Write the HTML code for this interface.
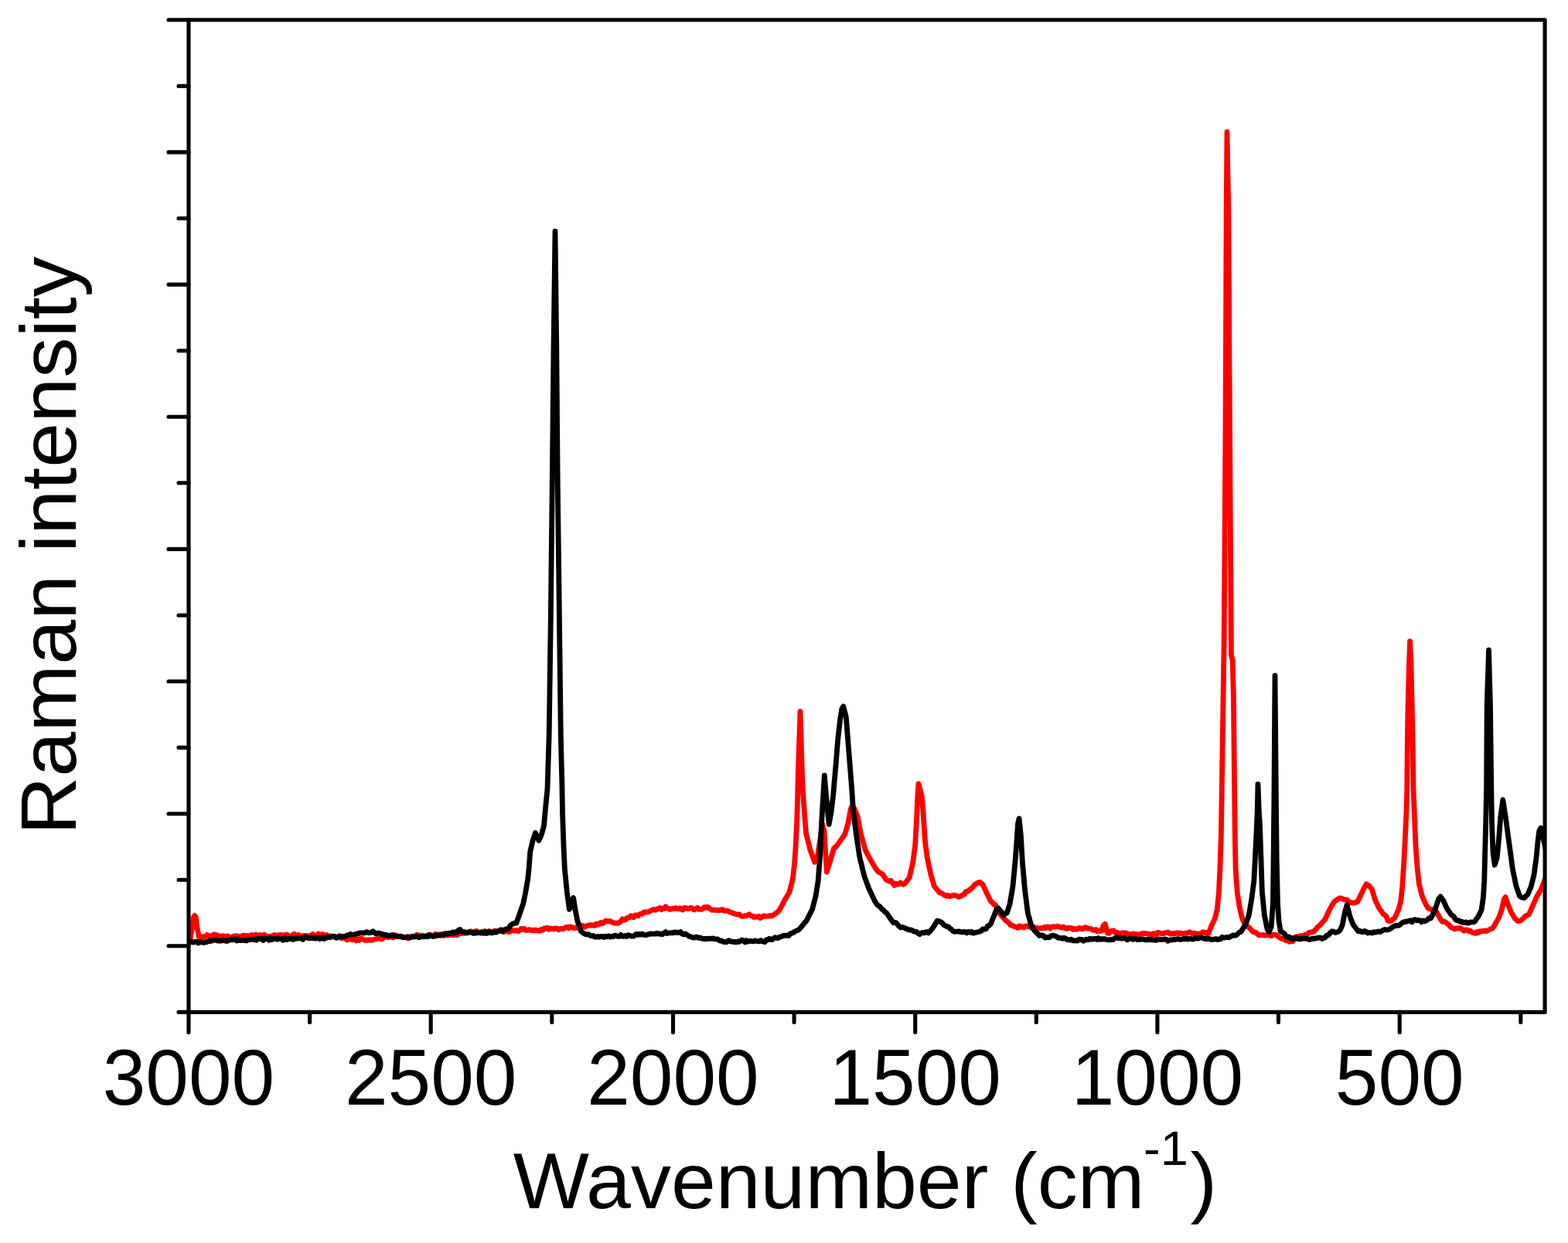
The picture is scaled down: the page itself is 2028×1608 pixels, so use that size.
<!DOCTYPE html>
<html lang="en"><head><meta charset="utf-8"><title>Raman spectra</title>
<style>html,body{margin:0;padding:0;background:#fff}body{width:2028px;height:1608px;overflow:hidden}svg{display:block}text{font-family:"Liberation Sans",sans-serif;fill:#000}</style></head><body>
<svg width="2028" height="1608" viewBox="0 0 2028 1608">
<rect x="0" y="0" width="2028" height="1608" fill="#fff"/>
<defs><clipPath id="plot"><rect x="244.0" y="25.8" width="1754.1" height="1283.6"/></clipPath></defs>
<g clip-path="url(#plot)" fill="none" stroke-linejoin="round" stroke-linecap="round" stroke-width="6.8">
<polyline stroke="#ff0000" points="244.0,1214.4 246.0,1214.2 248.5,1199.9 250.3,1186.8 251.8,1184.3 253.3,1186.8 255.0,1200.4 257.7,1213.3 259.9,1213.3 262.0,1211.7 264.0,1211.7 266.0,1211.3 268.0,1209.3 270.0,1210.7 271.9,1211.1 273.8,1211.2 275.6,1209.3 277.5,1208.8 279.4,1209.5 281.2,1210.1 283.1,1211.0 285.0,1211.0 286.9,1211.5 288.8,1210.7 290.6,1211.3 292.5,1211.6 294.4,1210.8 296.2,1212.8 298.1,1212.3 300.0,1212.1 301.8,1211.2 303.6,1210.7 305.4,1210.8 307.2,1211.0 309.0,1211.7 310.9,1211.5 312.7,1210.8 314.5,1210.1 316.3,1210.2 318.1,1211.8 319.9,1210.3 321.7,1210.9 323.5,1211.1 325.3,1209.4 327.1,1210.3 329.0,1211.6 330.8,1208.9 332.6,1209.7 334.4,1210.1 336.2,1209.5 338.0,1210.3 339.9,1210.2 341.7,1208.9 343.6,1210.7 345.4,1211.0 347.2,1211.4 349.1,1211.9 350.9,1211.1 352.8,1210.7 354.6,1209.4 356.5,1210.8 358.4,1210.0 360.2,1210.0 362.1,1209.3 363.9,1209.4 365.8,1209.9 367.6,1211.6 369.4,1209.1 371.3,1209.0 373.1,1210.6 375.0,1211.4 376.8,1211.6 378.7,1209.2 380.5,1208.2 382.4,1210.3 384.2,1209.7 386.1,1209.2 387.9,1210.9 389.7,1211.4 391.6,1210.6 393.4,1210.4 395.3,1210.5 397.1,1211.5 398.9,1210.9 400.8,1210.5 402.6,1210.4 404.5,1208.5 406.3,1210.5 408.2,1210.6 410.0,1209.9 411.8,1208.0 413.6,1208.8 415.5,1210.4 417.3,1208.5 419.1,1209.6 420.9,1211.1 422.7,1209.5 424.5,1211.8 426.4,1211.5 428.2,1210.9 430.0,1211.2 431.9,1212.0 433.8,1211.9 435.6,1213.0 437.5,1211.9 439.4,1212.1 441.2,1213.7 443.1,1213.4 445.0,1213.1 447.0,1214.7 449.0,1216.0 451.0,1215.0 453.0,1214.3 455.0,1215.8 456.9,1215.6 458.8,1215.4 460.6,1216.8 462.5,1214.9 464.4,1216.4 466.2,1214.4 468.1,1214.2 470.0,1215.2 471.8,1216.3 473.7,1216.4 475.5,1216.1 477.3,1215.9 479.2,1216.0 481.0,1216.3 482.8,1215.5 484.6,1215.2 486.4,1215.1 488.2,1214.1 490.0,1213.9 491.8,1214.0 493.6,1215.0 495.5,1213.6 497.3,1212.4 499.1,1212.0 500.9,1212.0 502.7,1212.7 504.5,1211.6 506.4,1211.8 508.2,1213.0 510.0,1210.2 512.0,1209.8 514.0,1211.2 516.0,1211.9 518.0,1212.0 520.0,1211.6 522.0,1212.6 524.0,1212.6 526.0,1212.2 527.9,1214.1 529.8,1212.8 531.7,1211.5 533.6,1211.5 535.5,1211.2 537.4,1211.1 539.3,1209.1 541.2,1209.9 543.1,1211.4 545.0,1210.1 546.8,1210.2 548.6,1211.2 550.5,1211.3 552.3,1211.9 554.1,1209.1 555.9,1209.6 557.7,1209.7 559.5,1210.6 561.4,1211.2 563.2,1208.3 565.0,1210.3 566.8,1208.7 568.6,1210.1 570.5,1208.5 572.3,1209.5 574.1,1210.6 575.9,1209.6 577.7,1209.6 579.5,1210.0 581.4,1209.5 583.2,1209.1 585.0,1209.7 587.0,1209.9 589.0,1208.3 591.0,1209.9 593.0,1207.2 595.0,1208.0 597.0,1207.1 599.0,1207.1 601.0,1207.5 603.0,1207.0 605.0,1206.8 606.9,1205.2 608.8,1204.7 610.6,1206.4 612.5,1205.3 614.4,1204.9 616.2,1204.4 618.1,1206.6 620.0,1206.2 621.8,1207.2 623.6,1205.2 625.5,1205.4 627.3,1204.4 629.1,1205.8 630.9,1206.8 632.7,1204.7 634.5,1206.4 636.4,1206.2 638.2,1205.0 640.0,1203.9 641.9,1205.5 643.8,1204.7 645.7,1204.0 647.6,1204.7 649.5,1204.8 651.4,1205.7 653.4,1203.6 655.3,1204.9 657.2,1205.5 659.1,1205.6 661.0,1204.0 662.9,1203.1 664.8,1204.0 666.7,1203.8 668.5,1203.7 670.4,1204.7 672.3,1203.4 674.1,1201.3 676.0,1202.4 677.9,1201.3 679.7,1203.4 681.6,1203.4 683.5,1202.5 685.3,1202.8 687.2,1203.6 689.1,1203.0 690.9,1204.0 692.8,1202.9 694.7,1203.6 696.5,1204.1 698.4,1204.3 700.3,1202.3 702.1,1203.1 704.0,1200.8 705.9,1200.9 707.7,1200.1 709.6,1202.3 711.5,1201.0 713.3,1201.6 715.2,1201.4 717.0,1201.5 718.9,1200.9 720.8,1201.3 722.6,1202.8 724.5,1201.4 726.4,1201.5 728.2,1201.8 730.1,1200.7 732.0,1199.3 733.8,1199.5 735.7,1200.9 737.5,1198.7 739.4,1199.5 741.3,1200.4 743.1,1200.5 745.0,1199.7 746.9,1200.1 748.7,1199.5 750.6,1198.1 752.5,1197.2 754.3,1197.8 756.2,1199.2 758.1,1198.1 760.0,1197.4 761.8,1197.3 763.7,1196.4 765.6,1197.4 767.4,1196.6 769.3,1197.6 771.2,1195.0 773.2,1196.2 775.1,1195.2 777.1,1193.3 779.0,1194.8 780.9,1193.8 782.9,1191.4 784.8,1191.5 786.8,1192.1 788.7,1191.4 790.9,1192.8 793.2,1193.6 795.4,1194.1 797.6,1194.1 799.4,1194.4 801.2,1193.2 803.1,1192.0 804.9,1188.9 806.7,1190.1 808.5,1190.2 810.4,1188.1 812.2,1186.8 814.0,1187.2 815.9,1184.7 817.8,1185.4 819.6,1186.7 821.5,1183.8 823.4,1184.1 825.2,1184.9 827.1,1182.8 829.0,1182.2 830.9,1182.3 832.7,1180.2 834.6,1180.0 836.5,1179.9 838.3,1179.9 840.2,1178.8 842.0,1177.9 843.9,1177.0 845.8,1176.5 847.7,1177.3 849.6,1176.5 851.6,1175.1 853.5,1174.4 855.4,1176.7 857.3,1175.2 859.1,1175.5 860.9,1172.9 862.8,1174.9 864.6,1175.3 866.4,1176.5 868.2,1175.8 870.1,1175.2 871.9,1175.6 873.7,1174.4 875.6,1175.7 877.4,1175.6 879.3,1174.7 881.2,1176.3 883.0,1177.1 884.9,1174.4 886.8,1174.4 888.6,1175.3 890.5,1175.4 892.4,1174.9 894.2,1174.2 896.1,1176.0 898.0,1177.0 900.0,1175.6 901.9,1174.2 903.7,1176.4 905.6,1176.0 907.5,1176.4 909.3,1175.3 911.2,1173.5 913.1,1174.4 914.9,1173.1 916.8,1174.4 918.7,1175.9 920.5,1177.3 922.4,1177.2 924.4,1177.1 926.4,1177.6 928.3,1177.5 930.3,1177.6 932.3,1177.2 934.3,1176.6 936.4,1178.1 938.5,1178.4 940.6,1178.2 942.7,1178.9 944.8,1180.3 946.7,1180.8 948.5,1181.6 950.4,1182.1 952.2,1182.8 954.1,1183.1 956.0,1182.6 957.8,1184.4 959.7,1185.4 961.6,1185.4 963.5,1184.5 965.3,1184.8 967.2,1183.8 969.2,1182.8 971.2,1184.8 973.2,1184.8 975.1,1186.6 977.1,1185.8 979.1,1186.1 981.2,1185.4 983.3,1187.6 985.4,1186.2 987.5,1184.7 989.6,1185.2 991.6,1185.4 993.6,1185.2 995.5,1184.5 997.5,1185.1 999.5,1184.2 1001.5,1182.8 1003.4,1181.4 1005.2,1180.6 1007.1,1178.4 1009.0,1175.8 1014.9,1164.5 1020.9,1154.2 1025.4,1136.7 1027.6,1116.9 1029.1,1095.1 1030.6,1065.2 1031.5,1035.4 1032.3,1000.0 1035.0,920.4 1037.4,1000.8 1038.2,1020.1 1040.3,1050.0 1042.5,1077.7 1047.8,1099.2 1053.7,1115.2 1057.5,1106.5 1061.0,1085.1 1063.5,1065.5 1066.0,1075.0 1067.8,1105.2 1069.4,1128.0 1073.9,1113.0 1078.4,1097.7 1080.6,1095.9 1082.9,1093.3 1085.1,1090.3 1092.5,1079.8 1097.0,1064.7 1100.2,1046.8 1101.8,1043.2 1105.0,1046.1 1109.0,1055.9 1113.4,1079.0 1119.4,1100.2 1125.4,1111.5 1132.8,1123.9 1134.6,1126.2 1136.4,1128.0 1138.2,1129.0 1140.0,1130.2 1141.8,1131.2 1146.3,1138.6 1148.3,1139.2 1150.2,1140.1 1152.2,1139.2 1156.7,1145.3 1158.7,1142.9 1160.7,1144.1 1162.7,1143.6 1164.5,1141.8 1166.4,1143.1 1168.2,1144.2 1170.1,1143.2 1176.1,1135.4 1180.6,1116.3 1183.6,1094.1 1185.3,1064.1 1186.6,1034.7 1188.0,1013.8 1192.2,1029.6 1194.0,1050.3 1196.4,1088.0 1199.4,1110.3 1203.9,1131.5 1208.4,1146.6 1215.8,1155.2 1217.8,1155.3 1219.8,1156.9 1221.8,1158.0 1223.8,1159.2 1225.8,1158.2 1227.8,1159.6 1229.8,1159.2 1231.7,1158.6 1233.7,1157.9 1235.7,1158.7 1237.7,1158.8 1239.7,1160.5 1241.6,1160.0 1243.5,1158.8 1245.3,1157.5 1247.2,1157.1 1249.0,1153.7 1250.9,1152.9 1252.8,1152.5 1254.6,1150.6 1256.5,1149.3 1258.3,1147.7 1260.2,1144.5 1262.1,1143.6 1264.7,1142.0 1267.3,1141.1 1269.2,1143.0 1271.0,1144.0 1275.5,1153.9 1281.5,1166.1 1283.5,1167.6 1285.5,1169.9 1287.5,1170.9 1293.4,1182.4 1299.4,1189.4 1301.3,1191.1 1303.2,1192.7 1305.0,1194.0 1306.9,1196.7 1308.8,1196.9 1310.6,1198.0 1312.5,1199.0 1314.3,1199.0 1316.5,1200.3 1318.8,1197.7 1320.7,1199.0 1322.5,1198.7 1324.4,1199.8 1326.3,1198.2 1328.4,1197.9 1330.5,1198.8 1332.5,1199.2 1334.6,1200.7 1336.7,1198.8 1338.8,1200.2 1340.9,1200.3 1343.0,1200.8 1345.1,1200.9 1347.2,1200.6 1349.0,1200.8 1350.8,1199.3 1352.7,1200.7 1354.5,1198.9 1356.3,1199.4 1358.1,1201.1 1360.0,1199.2 1361.8,1198.7 1363.6,1198.9 1365.6,1198.9 1367.6,1198.1 1369.6,1199.0 1371.6,1199.6 1373.5,1200.0 1375.5,1198.9 1377.5,1201.0 1379.5,1201.6 1381.5,1200.1 1383.6,1200.7 1385.7,1200.5 1387.7,1202.4 1389.8,1201.3 1391.9,1202.4 1394.0,1201.4 1396.1,1200.5 1398.2,1201.3 1400.3,1201.7 1402.4,1200.1 1404.6,1199.7 1406.8,1201.2 1409.1,1201.1 1411.3,1201.5 1413.2,1203.2 1415.2,1203.5 1417.1,1202.5 1419.0,1205.0 1420.9,1203.9 1422.9,1204.7 1424.8,1204.1 1427.0,1197.5 1429.3,1195.3 1432.2,1207.2 1434.5,1207.4 1436.7,1204.7 1438.7,1203.9 1440.7,1204.0 1442.7,1206.8 1444.7,1206.3 1446.7,1206.8 1448.7,1207.1 1450.6,1207.3 1452.4,1206.6 1454.3,1207.6 1456.2,1206.7 1458.0,1207.8 1459.9,1208.6 1461.7,1209.1 1463.6,1208.8 1465.4,1207.9 1467.2,1208.6 1469.1,1208.1 1470.9,1209.8 1472.7,1209.4 1474.5,1208.5 1476.4,1207.9 1478.2,1207.4 1480.0,1207.6 1481.9,1207.5 1483.8,1208.1 1485.7,1208.4 1487.6,1208.5 1489.5,1209.8 1491.4,1207.6 1493.4,1207.7 1495.3,1209.6 1497.2,1206.4 1499.1,1206.7 1501.0,1207.4 1502.9,1207.5 1504.8,1207.5 1506.8,1206.7 1508.7,1206.6 1510.7,1205.9 1513.0,1208.0 1515.2,1208.0 1517.1,1207.4 1519.1,1208.1 1521.0,1207.1 1523.0,1206.7 1524.9,1208.0 1526.8,1207.0 1528.8,1207.7 1530.7,1207.8 1532.7,1207.3 1534.6,1206.9 1536.5,1206.8 1538.3,1205.7 1540.2,1206.8 1542.1,1207.7 1544.0,1207.1 1545.8,1207.5 1547.7,1208.5 1549.6,1207.8 1551.6,1207.8 1553.5,1208.3 1555.5,1205.8 1557.4,1206.3 1559.2,1206.4 1561.1,1208.3 1563.0,1207.6 1566.0,1199.6 1571.2,1188.5 1574.2,1176.6 1576.4,1154.3 1577.9,1123.7 1579.4,1080.1 1580.3,1020.5 1583.2,828.3 1585.0,560.2 1586.2,270.0 1587.0,170.7 1588.8,270.2 1590.5,559.4 1592.4,847.2 1594.2,854.1 1594.3,860.4 1595.4,899.5 1596.6,1019.3 1597.3,1079.0 1598.1,1124.5 1600.3,1155.1 1603.3,1174.1 1606.3,1187.4 1610.7,1197.1 1613.3,1198.4 1616.0,1200.3 1618.2,1202.9 1620.5,1205.2 1622.7,1206.2 1624.5,1206.3 1626.4,1208.4 1628.2,1209.6 1630.1,1209.7 1631.9,1209.7 1633.7,1209.4 1635.5,1210.1 1637.3,1209.7 1639.1,1209.6 1640.9,1209.1 1642.7,1210.1 1644.5,1210.6 1646.3,1209.0 1648.1,1209.2 1650.3,1209.4 1652.5,1211.0 1654.8,1212.8 1657.0,1214.1 1659.1,1214.4 1661.2,1215.3 1663.3,1216.6 1665.4,1216.2 1667.5,1218.3 1669.7,1217.5 1671.9,1217.9 1673.9,1214.8 1675.9,1211.8 1677.9,1211.6 1680.0,1211.5 1682.1,1210.5 1684.2,1211.2 1686.3,1210.0 1688.4,1209.3 1690.5,1209.0 1692.6,1206.5 1694.6,1206.0 1696.7,1205.7 1698.8,1205.5 1700.7,1203.3 1702.5,1201.6 1704.4,1199.0 1706.3,1197.7 1713.7,1189.5 1719.7,1176.6 1724.2,1168.8 1726.2,1166.1 1728.3,1164.6 1730.4,1163.2 1732.4,1161.9 1734.8,1162.0 1737.3,1163.3 1739.5,1164.0 1741.8,1164.0 1743.7,1165.4 1745.5,1167.9 1747.3,1167.5 1749.2,1168.0 1751.3,1168.1 1753.5,1167.2 1755.6,1166.8 1760.4,1156.9 1765.3,1146.6 1767.2,1143.6 1769.0,1144.7 1771.7,1147.0 1774.3,1150.3 1778.7,1164.4 1783.2,1174.0 1789.2,1182.7 1791.1,1183.7 1792.9,1185.3 1795.2,1191.2 1797.4,1191.6 1799.6,1191.0 1801.8,1189.1 1804.1,1187.1 1808.6,1177.1 1811.6,1166.6 1813.8,1146.9 1816.1,1109.9 1817.6,1079.7 1819.0,1049.4 1819.8,1020.5 1820.2,968.3 1821.1,911.7 1822.6,856.4 1823.6,829.7 1824.9,855.4 1826.2,912.6 1827.3,968.3 1828.0,1020.5 1829.5,1057.5 1831.0,1094.6 1833.2,1123.8 1835.5,1144.2 1839.2,1158.9 1843.7,1169.2 1847.4,1175.3 1849.4,1175.8 1851.4,1176.8 1853.4,1176.6 1855.4,1178.6 1857.3,1178.8 1859.3,1182.3 1863.8,1190.3 1865.7,1192.4 1867.5,1192.0 1869.4,1192.8 1871.3,1194.6 1873.3,1195.7 1875.3,1198.0 1877.3,1199.9 1879.5,1200.7 1881.7,1201.9 1883.6,1200.8 1885.5,1201.1 1887.3,1200.7 1889.2,1200.6 1891.3,1202.4 1893.4,1204.3 1895.4,1202.8 1897.5,1203.0 1899.6,1204.5 1901.4,1204.0 1903.2,1205.7 1905.0,1206.7 1906.8,1206.6 1908.6,1207.5 1910.4,1205.6 1912.2,1206.8 1914.0,1204.7 1915.8,1204.6 1917.6,1204.7 1919.8,1204.0 1922.0,1204.6 1924.3,1203.6 1926.5,1202.7 1928.5,1201.5 1930.5,1200.9 1932.5,1197.8 1938.4,1187.4 1942.2,1177.3 1945.2,1163.6 1947.1,1160.5 1950.4,1170.2 1954.9,1180.9 1959.3,1188.1 1961.2,1189.8 1963.1,1191.7 1965.7,1191.4 1968.3,1189.8 1970.5,1187.5 1972.8,1185.2 1975.0,1184.1 1977.3,1183.1 1981.7,1173.3 1987.7,1159.7 1992.9,1151.1 1996.7,1141.5 1999.5,1134.7"/>
<polyline stroke="#000000" points="244.0,1218.6 246.0,1218.8 248.0,1217.9 250.0,1219.1 252.0,1218.4 254.0,1218.3 256.0,1220.0 258.0,1219.0 260.0,1218.6 261.9,1219.1 263.8,1219.5 265.6,1218.5 267.5,1218.7 269.4,1217.5 271.2,1217.5 273.1,1217.4 275.0,1216.6 276.9,1216.2 278.8,1215.9 280.6,1216.9 282.5,1217.1 284.4,1217.0 286.2,1217.2 288.1,1216.0 290.0,1216.8 291.8,1217.0 293.6,1217.5 295.4,1216.3 297.2,1216.3 299.0,1215.0 300.8,1215.8 302.6,1214.6 304.4,1214.9 306.2,1216.9 308.0,1214.8 309.8,1216.6 311.6,1216.6 313.4,1216.1 315.2,1216.5 317.0,1216.6 318.8,1217.0 320.6,1216.0 322.4,1215.5 324.2,1215.3 326.0,1214.9 327.8,1215.5 329.6,1215.0 331.4,1216.3 333.2,1214.3 335.0,1214.3 336.8,1214.4 338.6,1214.4 340.4,1216.4 342.3,1213.8 344.1,1214.6 345.9,1214.6 347.8,1216.3 349.6,1213.8 351.5,1215.6 353.3,1214.5 355.1,1214.7 357.0,1214.3 358.8,1215.2 360.6,1214.0 362.5,1214.5 364.3,1214.9 366.1,1216.2 368.0,1213.2 369.8,1215.4 371.6,1215.5 373.5,1214.3 375.3,1214.6 377.1,1214.0 379.0,1215.5 380.8,1214.7 382.7,1214.1 384.5,1214.0 386.3,1213.9 388.2,1213.9 390.0,1213.6 391.8,1215.4 393.6,1212.7 395.4,1211.8 397.2,1213.1 399.0,1213.4 400.8,1213.9 402.7,1213.5 404.5,1213.4 406.3,1213.7 408.1,1214.2 409.9,1213.2 411.7,1212.9 413.5,1214.7 415.3,1213.9 417.1,1212.5 418.9,1214.6 420.7,1214.0 422.5,1212.7 424.3,1211.8 426.2,1212.8 428.0,1212.0 429.8,1211.6 431.6,1211.3 433.4,1211.8 435.2,1213.2 437.0,1212.3 438.8,1210.8 440.6,1211.9 442.5,1211.4 444.3,1211.7 446.1,1211.8 447.9,1210.4 449.7,1209.8 451.5,1209.5 453.4,1208.3 455.2,1209.2 457.0,1209.1 458.9,1208.8 460.7,1208.1 462.6,1207.8 464.4,1207.1 466.3,1206.8 468.1,1206.9 470.0,1206.9 472.1,1206.6 474.2,1205.6 476.4,1206.8 478.5,1206.7 480.6,1206.0 482.5,1204.7 484.3,1206.4 486.1,1207.9 488.0,1207.1 490.0,1207.2 492.0,1207.6 494.0,1209.0 496.0,1208.7 498.0,1209.9 500.0,1209.4 502.0,1210.5 504.0,1210.2 506.0,1210.2 508.0,1209.3 510.0,1210.4 512.0,1210.6 514.0,1211.6 516.0,1211.7 518.0,1211.1 520.0,1212.0 522.0,1212.8 524.0,1212.3 526.0,1212.2 527.9,1211.9 529.8,1212.8 531.7,1212.7 533.6,1211.5 535.5,1212.1 537.4,1211.6 539.3,1211.2 541.2,1212.6 543.1,1212.5 545.0,1211.4 546.8,1211.5 548.6,1211.8 550.5,1210.9 552.3,1211.0 554.1,1211.5 555.9,1209.6 557.7,1210.8 559.5,1211.3 561.4,1211.2 563.2,1209.6 565.0,1210.4 566.9,1209.4 568.8,1210.0 570.6,1209.9 572.5,1209.3 574.4,1208.1 576.2,1207.6 578.1,1208.4 580.0,1207.2 581.9,1207.3 583.7,1207.0 585.6,1205.9 587.4,1207.2 589.3,1205.5 591.1,1206.3 593.0,1203.4 595.0,1202.4 597.0,1205.1 599.0,1205.5 601.0,1205.7 603.0,1206.3 605.0,1206.2 606.9,1206.1 608.8,1205.9 610.6,1206.4 612.5,1207.4 614.4,1206.9 616.2,1207.0 618.1,1206.2 620.0,1206.4 621.8,1206.5 623.6,1206.2 625.5,1207.3 627.3,1205.8 629.1,1207.5 630.9,1205.6 632.7,1206.7 634.5,1205.4 636.4,1207.0 638.2,1206.1 640.0,1205.8 642.0,1206.0 644.0,1204.7 645.9,1203.9 647.9,1202.7 649.9,1204.6 651.8,1203.1 653.6,1202.2 655.4,1201.9 657.3,1202.1 659.9,1197.4 662.5,1195.4 665.1,1194.3 667.8,1194.1 672.2,1182.0 676.7,1169.0 679.7,1154.6 682.7,1137.1 684.2,1122.3 685.7,1102.0 688.7,1088.7 692.4,1077.5 696.9,1087.3 700.6,1079.0 703.6,1067.9 705.1,1050.0 706.6,1034.9 708.0,1020.5 710.2,949.7 712.3,800.1 714.3,620.0 716.0,450.0 718.0,299.2 719.8,450.1 721.2,620.1 723.2,780.1 725.3,950.8 727.0,1020.1 727.5,1050.3 729.0,1094.9 730.4,1124.4 733.4,1154.6 736.4,1176.4 741.6,1161.4 743.9,1176.5 746.9,1191.3 751.3,1204.4 753.3,1206.3 755.3,1207.7 757.3,1208.6 759.3,1208.8 761.3,1208.6 763.3,1210.2 765.3,1210.9 767.3,1210.5 769.3,1212.1 771.3,1212.2 773.3,1211.3 775.2,1212.3 777.2,1211.3 779.2,1211.4 781.2,1212.5 783.2,1211.1 785.2,1211.9 787.2,1210.8 789.2,1212.1 791.1,1211.2 793.1,1211.5 795.1,1210.1 797.1,1210.6 799.1,1211.3 801.0,1211.4 802.8,1209.4 804.7,1211.1 806.6,1211.4 808.4,1210.4 810.3,1211.5 812.2,1209.7 814.0,1209.9 815.9,1210.9 817.8,1211.2 819.7,1211.2 821.5,1209.2 823.4,1208.1 825.3,1209.4 827.1,1208.2 829.0,1209.1 830.9,1208.0 832.7,1209.5 834.6,1209.6 836.4,1209.3 838.3,1208.6 840.1,1208.4 842.0,1207.9 843.9,1208.2 845.7,1208.1 847.6,1208.1 849.4,1207.2 851.3,1208.0 853.2,1207.8 855.1,1208.5 857.1,1208.5 859.0,1206.7 860.9,1205.6 862.8,1207.6 864.8,1206.8 866.7,1206.9 868.6,1206.6 870.5,1206.9 872.4,1205.8 874.4,1206.4 876.3,1206.2 878.2,1206.5 880.2,1205.5 882.2,1208.1 884.2,1208.9 886.2,1207.9 888.1,1209.0 890.1,1210.3 892.1,1211.6 894.1,1212.0 896.1,1213.1 898.0,1213.0 899.9,1212.1 901.7,1212.2 903.6,1213.5 905.5,1212.9 907.4,1214.0 909.3,1214.5 911.1,1214.4 913.0,1214.8 914.9,1214.1 916.8,1214.3 918.6,1214.2 920.5,1214.3 922.4,1213.9 924.2,1214.8 926.1,1214.8 928.0,1214.8 929.8,1216.3 931.7,1217.2 933.6,1217.0 935.4,1218.5 937.3,1218.3 939.2,1218.9 941.0,1217.6 942.9,1216.6 944.8,1217.9 946.6,1218.1 948.5,1218.5 950.4,1218.3 952.2,1218.9 954.1,1217.9 956.0,1218.3 957.8,1217.2 959.7,1215.9 961.5,1217.0 963.4,1218.8 965.3,1216.7 967.1,1218.3 969.0,1217.4 970.9,1217.4 972.7,1217.7 974.6,1217.9 976.5,1216.9 978.3,1217.3 980.2,1217.6 982.1,1217.8 983.9,1216.4 985.8,1217.8 987.7,1218.3 989.5,1218.5 991.4,1215.6 993.3,1215.9 995.1,1214.2 997.0,1215.5 998.9,1215.5 1000.7,1213.8 1002.6,1212.6 1004.5,1213.4 1006.3,1213.6 1008.2,1212.2 1010.0,1211.9 1011.9,1210.9 1013.9,1210.2 1015.9,1210.4 1017.9,1210.0 1019.9,1210.6 1021.9,1208.1 1023.9,1207.1 1026.0,1206.6 1028.1,1204.9 1030.1,1204.1 1032.2,1203.3 1034.3,1201.6 1043.3,1190.8 1050.7,1175.9 1055.2,1158.3 1058.2,1139.3 1060.4,1110.4 1061.9,1079.7 1063.4,1050.3 1066.3,1003.1 1069.0,1034.9 1072.2,1066.3 1075.0,1050.6 1077.6,1029.3 1081.2,987.9 1083.6,957.2 1086.6,930.9 1089.0,916.3 1090.7,913.8 1094.3,927.4 1096.7,957.7 1099.1,987.7 1101.5,1017.9 1103.7,1050.4 1107.5,1079.7 1111.9,1109.4 1117.9,1133.3 1123.9,1149.8 1131.3,1165.4 1133.2,1168.6 1135.0,1170.7 1136.9,1172.1 1138.8,1173.7 1140.7,1176.3 1142.5,1177.3 1144.4,1179.5 1146.3,1180.6 1153.7,1191.3 1155.5,1193.8 1157.3,1193.4 1159.1,1193.9 1160.9,1195.9 1162.7,1198.2 1164.8,1200.0 1166.9,1199.5 1168.9,1199.9 1171.0,1201.0 1173.1,1201.7 1174.9,1202.6 1176.7,1203.1 1178.5,1202.8 1180.3,1203.9 1182.1,1205.0 1183.9,1205.2 1185.7,1205.6 1187.5,1207.5 1189.4,1208.7 1191.2,1207.1 1193.1,1206.4 1195.0,1206.9 1196.8,1206.3 1198.7,1205.5 1200.5,1206.9 1202.4,1205.5 1207.6,1198.7 1212.1,1191.2 1214.3,1191.5 1216.6,1192.7 1218.8,1194.1 1220.8,1196.6 1222.8,1197.7 1224.8,1198.5 1226.7,1198.9 1228.5,1201.1 1230.3,1202.0 1232.2,1204.2 1234.3,1205.3 1236.4,1205.2 1238.5,1205.1 1240.6,1204.9 1242.7,1205.7 1244.7,1206.0 1246.7,1205.3 1248.7,1205.6 1250.6,1206.9 1252.6,1205.3 1254.6,1206.3 1256.6,1205.3 1258.6,1207.1 1260.6,1206.6 1262.6,1206.2 1264.6,1205.8 1266.6,1205.3 1268.8,1204.5 1271.0,1202.0 1273.3,1202.2 1275.5,1201.5 1277.5,1198.0 1279.5,1197.2 1281.5,1194.9 1286.0,1183.7 1289.0,1176.4 1291.2,1175.0 1294.9,1179.4 1297.9,1184.3 1300.2,1181.7 1302.4,1181.0 1306.1,1169.3 1309.9,1147.2 1312.8,1117.1 1315.1,1087.1 1316.6,1065.1 1318.1,1058.9 1320.3,1079.9 1322.5,1116.9 1325.5,1150.8 1329.3,1180.9 1333.7,1196.8 1338.2,1204.1 1340.2,1206.1 1342.2,1207.8 1344.2,1210.5 1346.0,1210.1 1347.8,1210.0 1349.6,1210.5 1351.5,1213.1 1353.3,1212.7 1355.1,1212.5 1356.9,1212.9 1359.5,1210.7 1362.1,1210.1 1364.3,1210.9 1366.6,1211.5 1368.4,1213.1 1370.3,1213.4 1372.2,1213.4 1374.0,1214.4 1375.9,1213.1 1377.9,1213.9 1379.8,1215.5 1381.8,1215.4 1383.7,1216.1 1385.6,1215.1 1387.6,1216.8 1389.5,1216.9 1391.5,1216.9 1393.4,1217.2 1395.4,1215.1 1397.4,1215.6 1399.4,1215.3 1401.4,1217.2 1403.3,1215.9 1405.3,1215.2 1407.3,1215.9 1409.3,1214.3 1411.3,1215.3 1413.2,1214.5 1415.0,1214.8 1416.9,1214.2 1418.8,1215.5 1420.6,1213.5 1422.5,1215.3 1424.4,1214.6 1426.2,1215.2 1428.1,1214.4 1430.0,1215.3 1431.8,1215.6 1433.7,1215.8 1435.6,1215.6 1437.5,1215.5 1439.3,1215.6 1441.2,1214.3 1443.1,1213.2 1445.0,1212.6 1446.8,1213.8 1448.7,1213.2 1450.6,1214.3 1452.4,1213.9 1454.3,1213.1 1456.2,1214.6 1458.0,1215.9 1459.9,1214.7 1461.7,1213.9 1463.6,1214.4 1465.4,1215.4 1467.2,1214.6 1469.1,1214.6 1470.9,1215.6 1472.7,1215.3 1474.5,1215.4 1476.4,1214.9 1478.2,1214.8 1480.0,1215.5 1481.8,1215.6 1483.6,1216.0 1485.4,1215.2 1487.2,1215.7 1489.0,1215.9 1490.8,1215.7 1492.6,1216.0 1494.4,1216.4 1496.2,1215.9 1498.0,1215.7 1499.8,1214.8 1501.7,1215.6 1503.5,1215.4 1505.3,1215.2 1507.1,1214.8 1508.9,1215.8 1510.7,1217.3 1512.5,1216.3 1514.3,1215.8 1516.1,1215.9 1517.9,1215.1 1519.7,1215.5 1521.6,1214.9 1523.4,1214.7 1525.3,1215.2 1527.2,1215.3 1529.0,1215.0 1530.9,1214.3 1532.8,1214.9 1534.7,1213.9 1536.5,1215.1 1538.4,1214.4 1540.3,1214.4 1542.1,1215.0 1544.0,1214.9 1545.9,1213.3 1547.7,1213.7 1549.6,1214.1 1551.5,1213.2 1553.4,1212.1 1555.3,1213.6 1557.3,1214.1 1559.2,1214.6 1561.1,1214.5 1563.0,1214.5 1564.9,1214.7 1566.8,1215.7 1568.7,1215.2 1570.7,1215.2 1572.6,1214.5 1574.5,1215.6 1576.4,1214.8 1578.5,1214.9 1580.6,1212.3 1582.7,1213.2 1584.8,1212.8 1586.9,1212.3 1589.0,1212.8 1591.1,1211.9 1593.1,1210.8 1595.2,1209.8 1597.3,1210.3 1599.2,1209.4 1601.0,1208.1 1602.9,1205.8 1604.8,1205.6 1610.7,1196.4 1615.2,1184.2 1619.0,1161.8 1621.9,1138.7 1623.4,1109.7 1624.9,1079.3 1626.2,1050.1 1627.0,1014.4 1628.3,1049.6 1629.4,1064.9 1630.9,1109.7 1632.4,1153.9 1635.4,1184.1 1639.1,1202.3 1641.3,1205.8 1644.3,1198.6 1646.4,1169.1 1647.1,1109.2 1648.0,1019.7 1649.0,873.9 1650.3,1020.0 1651.2,1109.5 1652.5,1168.6 1654.0,1191.6 1656.3,1205.0 1658.9,1206.2 1661.5,1208.1 1663.3,1211.8 1665.2,1212.2 1667.1,1211.8 1669.0,1214.1 1670.9,1213.4 1672.7,1214.9 1674.6,1213.4 1676.5,1213.5 1678.3,1214.5 1680.2,1214.9 1682.0,1214.6 1683.9,1214.3 1686.1,1214.2 1688.3,1214.1 1690.6,1214.4 1692.8,1215.3 1694.6,1215.3 1696.4,1214.4 1698.2,1214.2 1700.0,1214.3 1701.8,1213.9 1703.8,1213.3 1705.8,1213.0 1707.8,1213.2 1709.7,1214.6 1711.7,1213.3 1713.7,1213.1 1715.7,1210.1 1717.7,1210.0 1719.7,1207.6 1721.6,1205.5 1723.4,1204.7 1725.3,1205.5 1727.2,1206.6 1729.2,1205.9 1731.1,1204.9 1733.1,1203.5 1736.1,1196.9 1739.1,1181.6 1742.1,1170.7 1745.1,1182.1 1747.0,1188.6 1750.4,1196.5 1754.9,1202.3 1756.9,1204.9 1758.8,1204.1 1760.8,1205.4 1762.8,1205.8 1764.8,1204.4 1766.8,1205.2 1768.8,1207.0 1770.8,1206.3 1772.8,1206.6 1774.8,1207.0 1776.8,1205.6 1778.8,1206.2 1780.7,1205.6 1782.7,1204.9 1784.7,1205.6 1786.7,1204.6 1788.7,1203.4 1790.7,1202.5 1792.9,1202.9 1795.2,1202.8 1797.4,1201.9 1799.6,1200.6 1801.5,1199.0 1803.3,1198.2 1805.2,1197.3 1807.1,1197.5 1809.0,1197.2 1810.8,1196.2 1812.7,1194.4 1814.6,1193.0 1816.4,1192.6 1818.3,1192.1 1820.2,1192.0 1822.0,1191.5 1824.1,1190.8 1826.2,1192.8 1828.3,1190.1 1830.4,1189.7 1832.5,1190.8 1834.5,1190.3 1836.5,1190.9 1838.5,1192.8 1840.4,1191.0 1842.4,1191.8 1844.4,1190.9 1846.4,1189.8 1848.4,1187.6 1850.4,1188.0 1854.9,1179.9 1858.6,1169.1 1860.8,1162.6 1863.1,1159.9 1866.8,1165.0 1871.3,1175.2 1877.3,1183.9 1879.3,1184.6 1881.2,1187.2 1883.2,1190.0 1885.1,1190.8 1887.0,1190.9 1888.8,1192.5 1890.7,1192.1 1892.5,1193.7 1894.4,1193.4 1896.2,1192.9 1898.1,1194.1 1900.0,1194.0 1901.8,1193.0 1903.7,1192.9 1905.6,1192.8 1907.6,1192.0 1909.6,1188.6 1911.6,1186.3 1916.1,1177.3 1918.3,1161.8 1919.8,1139.2 1920.5,1109.7 1921.3,1079.6 1922.0,1050.3 1922.6,1019.6 1923.2,911.8 1925.5,841.0 1927.5,912.5 1928.8,1020.0 1929.5,1065.2 1931.0,1102.8 1933.2,1119.0 1936.2,1109.4 1938.4,1087.4 1940.7,1057.4 1943.8,1034.7 1947.4,1057.6 1950.4,1080.1 1953.4,1102.0 1956.4,1124.4 1960.8,1145.6 1965.3,1158.9 1967.5,1160.5 1969.8,1161.4 1971.8,1161.5 1973.8,1158.9 1975.8,1157.4 1980.2,1146.9 1984.0,1131.9 1987.0,1109.7 1989.2,1086.9 1990.7,1075.3 1992.9,1071.0 1995.2,1080.0 1997.4,1090.5 1999.5,1100.3"/>
</g>
<g fill="none" stroke="#000" stroke-width="5.1" stroke-linecap="round" stroke-linejoin="round">
<rect x="244.0" y="25.8" width="1754.1" height="1283.6"/>
<path d="M244.0 1309.4V1335.4M400.6 1309.4V1322.4M557.2 1309.4V1335.4M713.8 1309.4V1322.4M870.5 1309.4V1335.4M1027.1 1309.4V1322.4M1183.7 1309.4V1335.4M1340.3 1309.4V1322.4M1496.9 1309.4V1335.4M1653.5 1309.4V1322.4M1810.2 1309.4V1335.4M1966.8 1309.4V1322.4M244.0 25.8H218.0M244.0 111.4H231.0M244.0 196.9H218.0M244.0 282.5H231.0M244.0 368.1H218.0M244.0 453.7H231.0M244.0 539.2H218.0M244.0 624.8H231.0M244.0 710.4H218.0M244.0 796.0H231.0M244.0 881.5H218.0M244.0 967.1H231.0M244.0 1052.7H218.0M244.0 1138.3H231.0M244.0 1223.8H218.0M244.0 1309.4H231.0"/>
</g>
<g font-size="100px" text-anchor="middle" transform="translate(0 1429.0) scale(1 1.02)">
<text x="244.0" y="0">3000</text>
<text x="557.2" y="0">2500</text>
<text x="870.5" y="0">2000</text>
<text x="1183.7" y="0">1500</text>
<text x="1496.9" y="0">1000</text>
<text x="1810.2" y="0">500</text>
</g>
<text font-size="104px" transform="translate(663.8 1563.2) scale(1 0.975)"><tspan x="0" y="0">Wavenumber (cm</tspan><tspan font-size="65px" x="815.2" y="-57.3">-1</tspan><tspan x="875.7" y="0">)</tspan></text>
<text transform="translate(98.0 1080.0) rotate(-90) scale(1 0.975)" font-size="104.3px">Raman intensity</text>
</svg></body></html>
